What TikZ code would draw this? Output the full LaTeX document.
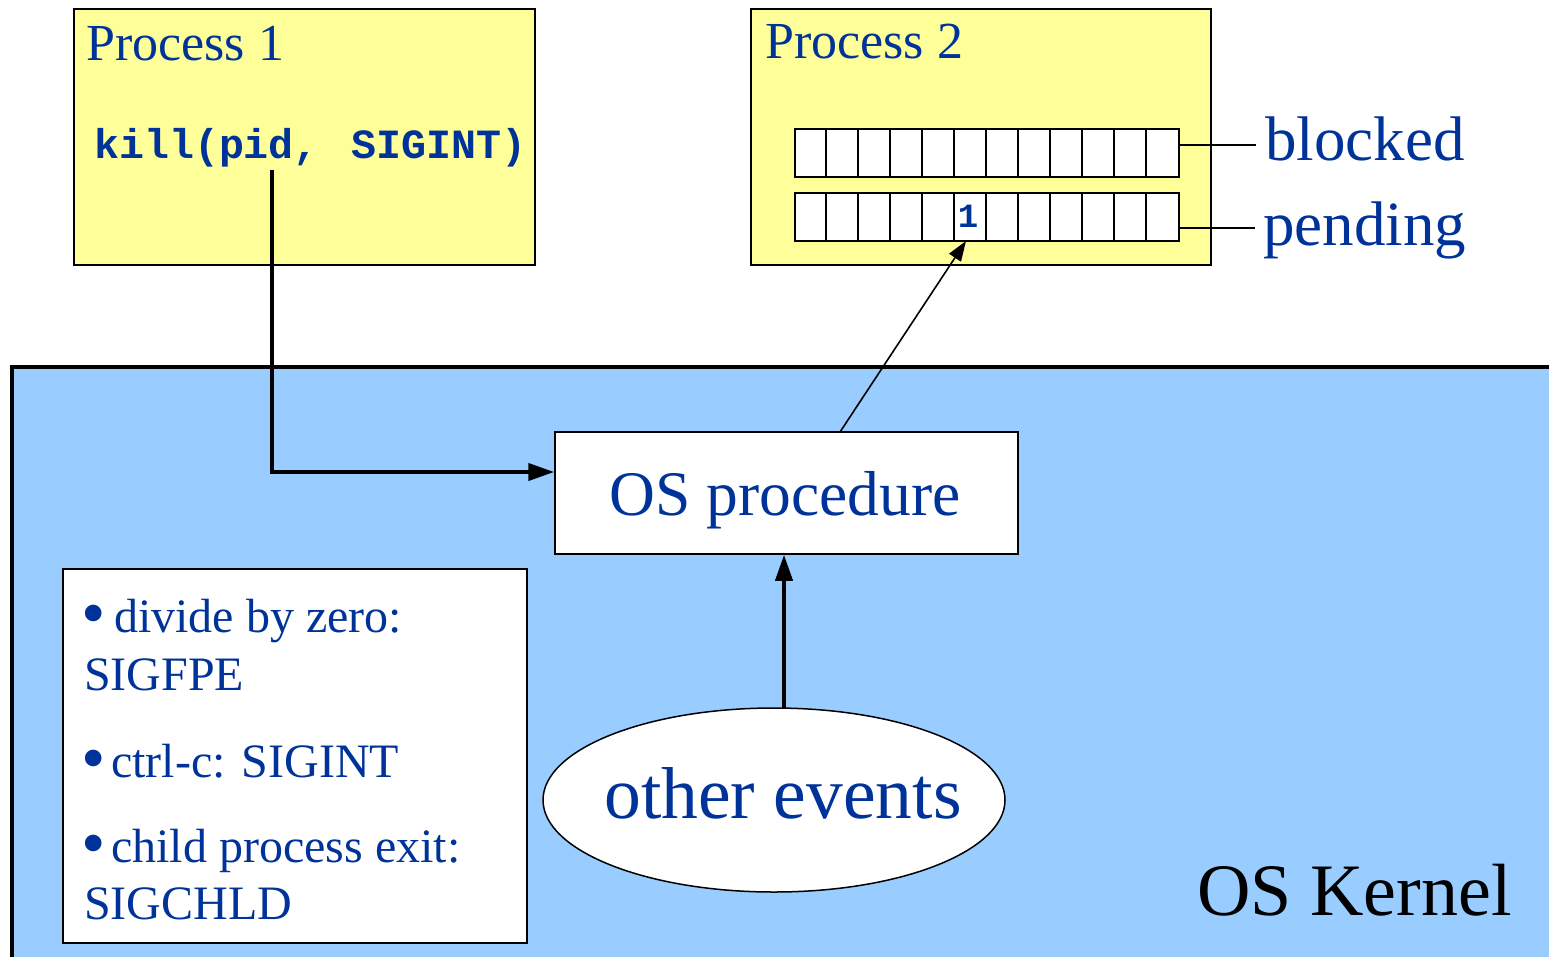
\documentclass[tikz,border=0pt]{standalone}
\usepackage{fontspec}
\usepackage{graphicx}
\setmainfont{Liberation Serif}
\newfontfamily\monob{Liberation Mono}
\usetikzlibrary{shapes.geometric,arrows.meta}
\definecolor{txtblue}{RGB}{0,51,153}
\definecolor{procyellow}{RGB}{255,255,153}
\definecolor{kernelblue}{RGB}{153,204,255}
\newcommand\mybul[1]{\makebox[#1][l]{\raisebox{-0.09em}{\scalebox{1.45}{•}}}}
\tikzset{
  procbox/.style={draw=black, line width=2pt, fill=procyellow, anchor=north west, inner sep=0pt},
  whitebox/.style={draw=black, line width=1.5pt, fill=white, inner sep=0pt},
  bluetext/.style={text=txtblue, inner sep=0pt, anchor=base west},
  thickarrow/.style={line width=4pt, -{Triangle[length=26pt,width=17pt]}},
  thinarrow/.style={line width=1.6pt, -{Triangle[length=20pt,width=14pt]}},
  bitrow/.style={draw=black, line width=1.5pt, fill=white, anchor=north west, inner sep=0pt, minimum width=384pt, minimum height=48pt},
}
\begin{document}
\begin{tikzpicture}[x=1pt,y=-1pt]
\useasboundingbox (0,0) rectangle (1549,956);
\clip (0,0) rectangle (1549,956);
\fill[white] (0,0) rectangle (1549,956);

% OS kernel area
\node[draw=black, line width=4pt, fill=kernelblue, anchor=north west, inner sep=0pt,
      minimum width=1600pt, minimum height=593pt] (kernel) at (10,365) {};
\node[text=black, inner sep=0pt, anchor=base west, font=\fontsize{74}{80}\selectfont] (kernellbl) at (1197,915) {OS Kernel};

% Process 1
\node[procbox, minimum width=461pt, minimum height=256pt] (p1) at (73,8) {};
\node[bluetext, font=\fontsize{52}{60}\selectfont] (p1lbl) at (86,60) {Process 1};
\node[bluetext, font=\monob\bfseries\fontsize{41.6}{48}\selectfont] (kill) at (94,158) {kill(pid,\hspace{8pt} SIGINT)};
\coordinate (killsrc) at (272,170);

% Process 2
\node[procbox, minimum width=460pt, minimum height=256pt] (p2) at (750,8) {};
\node[bluetext, font=\fontsize{52}{60}\selectfont] (p2lbl) at (765,58) {Process 2};
\node[bitrow] (blocked) at (794,128) {};
\node[bitrow] (pending) at (794,192) {};
\foreach \i in {1,...,11}{
  \draw[line width=1.5pt] (794+32*\i,128) -- ++(0,48);
  \draw[line width=1.5pt] (794+32*\i,192) -- ++(0,48);
}
\node[text=txtblue, inner sep=0pt, anchor=base, font=\monob\bfseries\fontsize{34}{40}\selectfont] (one) at (968,227) {1};
\node[bluetext, font=\fontsize{63}{70}\selectfont] (blockedlbl) at (1265,160) {blocked};
\node[bluetext, font=\fontsize{63}{70}\selectfont] (pendinglbl) at (1263,245) {pending};
\coordinate (blkend) at ([yshift=15pt]blockedlbl.base west);
\coordinate (pndend) at ([yshift=17pt]pendinglbl.base west);
\draw[line width=2pt, shorten >=9pt] (blocked.east |- blkend) -- (blkend);
\draw[line width=2pt, shorten >=8pt] (pending.east |- pndend) -- (pndend);
\coordinate (pendbit) at (966,241);

% OS procedure
\node[whitebox, minimum width=463pt, minimum height=122pt] (osproc) at (786.5,493) {};
\node[text=txtblue, inner sep=0pt, anchor=base, font=\fontsize{63.5}{70}\selectfont] (osproclbl) at (785,515) {OS procedure};

% other events
\node[whitebox, ellipse, minimum width=462pt, minimum height=184pt] (events) at (774,800) {};
\node[text=txtblue, inner sep=0pt, anchor=base, font=\fontsize{73.5}{80}\selectfont] (eventslbl) at (783,818) {other events};
\coordinate (evtop) at (784,709);

% signal list
\node[whitebox, anchor=north west, minimum width=464pt, minimum height=374pt] (list) at (62,568) {};
\begin{scope}[every node/.style={bluetext, font=\fontsize{48}{56}\selectfont}]
\node (l1) at (81,632) {\mybul{33pt}divide by zero:};
\node (l2) at (84,690) {SIGFPE};
\node (l3) at (81,777) {\mybul{30pt}ctrl-c: SIGINT};
\node (l4) at (81,862) {\mybul{30pt}child process exit:};
\node (l5) at (84,919) {SIGCHLD};
\end{scope}

% connectors
\draw[thickarrow] (killsrc) |- ([yshift=21pt]osproc.west);
\draw[thickarrow] (evtop) -- (osproc.south -| evtop);
\draw[thinarrow] ([xshift=54pt]osproc.north) -- (pendbit);
\end{tikzpicture}
\end{document}
